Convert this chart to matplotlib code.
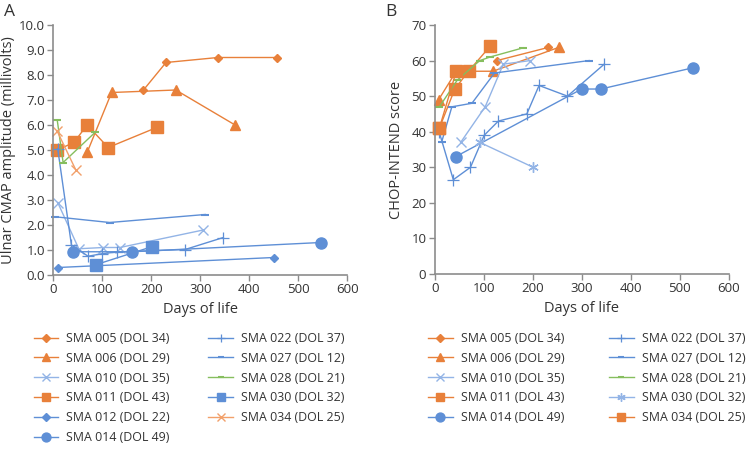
import matplotlib
matplotlib.use("Agg")
import matplotlib.pyplot as plt
import numpy as np

plt.rcParams['font.family'] = ['Open Sans', 'DejaVu Sans']

ORANGE = '#E8803A'
LORANGE = '#F2A06A'
BLUE = '#5E8FD6'
LBLUE = '#93B4E6'
GREEN = '#86BE5E'

# ---------------- Panel A data (days, CMAP mV) ----------------
a005_x = [184, 230, 336, 456]; a005_y = [7.4, 8.5, 8.7, 8.7]
a006_x = [69, 119, 250, 371];  a006_y = [4.9, 7.3, 7.4, 6.0]
a010_x = [9, 52, 102, 136, 306]; a010_y = [2.9, 1.05, 1.1, 1.1, 1.8]
a011_x = [8, 42, 69, 112, 211]; a011_y = [5.0, 5.3, 6.0, 5.1, 5.9]
a012_x = [10, 450]; a012_y = [0.3, 0.7]
a014_x = [41, 161, 546]; a014_y = [0.93, 0.93, 1.3]
a022_x = [9, 37, 71, 99, 129, 269, 347]; a022_y = [5.05, 1.2, 0.75, 0.85, 0.92, 1.02, 1.5]
a027_x = [3, 115, 310]; a027_y = [2.33, 2.1, 2.42]
a028_x = [8, 20, 85]; a028_y = [6.2, 4.5, 5.7]
a030_x = [88, 201]; a030_y = [0.42, 1.13]
a034_x = [8, 46]; a034_y = [5.75, 4.2]

# ---------------- Panel B data (days, CHOP-INTEND) ----------------
b005_x = [127, 232]; b005_y = [60, 63.7]
b006_x = [8, 44, 119, 253]; b006_y = [49, 57, 57, 63.7]
b010_x = [53, 103, 140, 195]; b010_y = [37, 47, 59, 60]
b011_x = [9.5, 41, 69, 113]; b011_y = [41, 52, 57, 64]
b014_x = [43, 300, 339, 528]; b014_y = [33, 52, 52, 58]
b022_x = [9, 38, 73, 101, 130, 188, 213, 271, 346]; b022_y = [40, 26.5, 30, 39, 43, 45, 53, 50, 59]
b027_x = [14, 35, 76, 122, 315]; b027_y = [37, 47, 48, 56.5, 60]
b028_x = [9.5, 46, 92, 113, 181]; b028_y = [47, 54.5, 60, 61, 63.6]
b030_x = [92, 201]; b030_y = [37, 30]
b034_x = [9.5, 44]; b034_y = [41, 57]

labels = {
    '005': 'SMA 005 (DOL 34)', '006': 'SMA 006 (DOL 29)', '010': 'SMA 010 (DOL 35)',
    '011': 'SMA 011 (DOL 43)', '012': 'SMA 012 (DOL 22)', '014': 'SMA 014 (DOL 49)',
    '022': 'SMA 022 (DOL 37)', '027': 'SMA 027 (DOL 12)', '028': 'SMA 028 (DOL 21)',
    '030': 'SMA 030 (DOL 32)', '034': 'SMA 034 (DOL 25)',
}

ASTER = (6, 2, 0)

styleA = {
    '005': dict(color=ORANGE, marker='D', ms=4.5),
    '006': dict(color=ORANGE, marker='^', ms=6.5),
    '010': dict(color=LBLUE, marker='x', ms=6.5, mew=1.0),
    '011': dict(color=ORANGE, marker='s', ms=8),
    '012': dict(color=BLUE, marker='D', ms=4.5),
    '014': dict(color=BLUE, marker='o', ms=8),
    '022': dict(color=BLUE, marker='+', ms=8, mew=0.9),
    '027': dict(color=BLUE, marker='_', ms=6, mew=1.5),
    '028': dict(color=GREEN, marker='_', ms=6, mew=1.5),
    '030': dict(color=BLUE, marker='s', ms=8),
    '034': dict(color=LORANGE, marker='x', ms=6.5, mew=1.0),
}
styleB = {
    '005': dict(color=ORANGE, marker='D', ms=4.5),
    '006': dict(color=ORANGE, marker='^', ms=6.5),
    '010': dict(color=LBLUE, marker='x', ms=6.5, mew=1.0),
    '011': dict(color=ORANGE, marker='s', ms=8),
    '014': dict(color=BLUE, marker='o', ms=8),
    '022': dict(color=BLUE, marker='+', ms=8, mew=0.9),
    '027': dict(color=BLUE, marker='_', ms=6, mew=1.5),
    '028': dict(color=GREEN, marker='_', ms=6, mew=1.5),
    '030': dict(color=LBLUE, marker=ASTER, ms=7.5, mew=1.0),
    '034': dict(color=ORANGE, marker='s', ms=8),
}

dataA = {'005': (a005_x, a005_y), '006': (a006_x, a006_y), '010': (a010_x, a010_y),
         '011': (a011_x, a011_y), '012': (a012_x, a012_y), '014': (a014_x, a014_y),
         '022': (a022_x, a022_y), '027': (a027_x, a027_y), '028': (a028_x, a028_y),
         '030': (a030_x, a030_y), '034': (a034_x, a034_y)}
dataB = {'005': (b005_x, b005_y), '006': (b006_x, b006_y), '010': (b010_x, b010_y),
         '011': (b011_x, b011_y), '014': (b014_x, b014_y), '022': (b022_x, b022_y),
         '027': (b027_x, b027_y), '028': (b028_x, b028_y), '030': (b030_x, b030_y),
         '034': (b034_x, b034_y)}

W, H = 753, 450
fig = plt.figure(figsize=(W / 100, H / 100), dpi=100)

def px_axes(x0, x1, y0, y1):
    return fig.add_axes([x0 / W, 1 - y1 / H, (x1 - x0) / W, (y1 - y0) / H])

axA = px_axes(53.3, 347.3, 25, 275)
axB = px_axes(434.7, 728.7, 25, 274)

AX_GRAY = '#8c8c8c'
TXT = '#333333'

def style_axes(ax):
    for s in ['top', 'right']:
        ax.spines[s].set_visible(False)
    for s in ['left', 'bottom']:
        ax.spines[s].set_color(AX_GRAY)
        ax.spines[s].set_linewidth(1.2)
    ax.tick_params(direction='out', length=4, width=1, color=AX_GRAY,
                   labelcolor=TXT, labelsize=9.5, pad=2)
    ax.set_xlim(0, 600)
    ax.set_xticks(np.arange(0, 601, 100))
    ax.set_xlabel('Days of life', fontsize=10.5, color=TXT, labelpad=4)

def draw(ax, data, styles, order):
    handles = []
    for k in order:
        x, y = data[k]
        st = dict(styles[k])
        c = st.pop('color')
        h, = ax.plot(x, y, color=c, lw=1.0, mfc=c, mec=c, label=labels[k],
                     clip_on=False, **st)
        handles.append(h)
    return handles

orderA = ['005', '006', '010', '011', '012', '014', '022', '027', '028', '030', '034']
orderB = ['005', '006', '010', '011', '014', '022', '027', '028', '030', '034']

hA = draw(axA, dataA, styleA, orderA)
hB = draw(axB, dataB, styleB, orderB)

style_axes(axA)
axA.set_ylim(0, 10)
axA.set_yticks(np.arange(0, 10.01, 1))
axA.set_yticklabels([f'{v:.1f}' for v in np.arange(0, 10.01, 1)])
axA.set_ylabel('Ulnar CMAP amplitude (millivolts)', fontsize=10.5, color=TXT, labelpad=2)

style_axes(axB)
axB.set_ylim(0, 70)
axB.set_yticks(np.arange(0, 71, 10))
axB.set_ylabel('CHOP-INTEND score', fontsize=10.5, color=TXT, labelpad=5)

fig.text(4 / W, 1 - 12 / H, 'A', fontsize=12.5, color=TXT, va='center', ha='left')
fig.text(385 / W, 1 - 12 / H, 'B', fontsize=12.5, color=TXT, va='center', ha='left')

leg_kw = dict(ncol=2, frameon=False, fontsize=8.9, handlelength=2.0,
              handletextpad=0.65, labelspacing=0.55, borderpad=0, borderaxespad=0,
              loc='upper left', labelcolor=TXT, markerscale=0.8)
legA = fig.legend(handles=hA, bbox_to_anchor=(33.6 / W, 1 - 332 / H),
                  columnspacing=3.1, **leg_kw)
legB = fig.legend(handles=hB, bbox_to_anchor=(428 / W, 1 - 332 / H),
                  columnspacing=3.6, **leg_kw)

fig.savefig('out.png', dpi=100)
